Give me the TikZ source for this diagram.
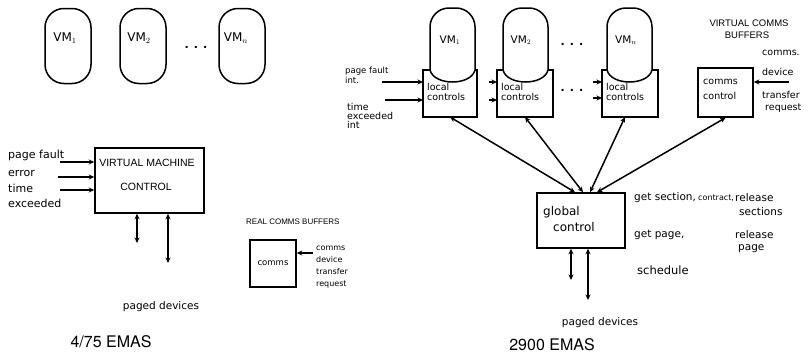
\documentclass[tikz,border=0pt]{standalone}
\usepackage{fontspec}
\usetikzlibrary{arrows.meta}
\newfontfamily\handfont{DejaVu Sans}
\newfontfamily\capsfont{Liberation Sans}
\newfontfamily\titlefont{TeX Gyre Heros}
\newcommand{\fs}[1]{\fontsize{#1}{#1}\selectfont}
\begin{document}
\begin{tikzpicture}[x=1pt,y=-1pt,
  ln/.style={line width=1.5pt},
  arr/.style={ln,-{Stealth[length=5.5pt,width=5pt]}},
  darr/.style={ln,{Stealth[length=5.5pt,width=5pt]}-{Stealth[length=5.5pt,width=5pt]}},
  hand/.style={font=\handfont\fs{10.5}, inner sep=0, align=left},
  caps/.style={font=\capsfont\fs{8}, inner sep=0},
  title/.style={font=\titlefont\fs{16}, inner sep=0},
  capsule/.style={draw, ln, rounded corners=19pt, minimum width=46pt, minimum height=75pt, inner sep=0},
  boxn/.style={draw, ln, inner sep=0},
  hold/.style={inner sep=0, outer sep=0},
  capline/.style={ln, rounded corners=19pt},
  dots/.style={font=\handfont\bfseries\fs{11}, inner sep=0}
]
\useasboundingbox (0,0) rectangle (810,356);

% ---------------- left: 4/75 EMAS ----------------
\node[capsule] (lv1) at (68,46) {};
\node[capsule] (lv2) at (143,46) {};
\node[capsule] (lv3) at (242,46) {};
\node[hand, font=\handfont\fs{12}] (lv1t) at (65,38) {VM$_1$};
\node[hand, font=\handfont\fs{12}] (lv2t) at (139,38) {VM$_2$};
\node[hand, font=\handfont\fs{12}] (lv3t) at (236,38) {VM$_n$};
\node[dots] (ldots) at (196,47) {. . .};

\node[boxn, minimum width=109pt, minimum height=65pt] (vmc) at (149.5,180.5) {};
\node[caps, font=\capsfont\fs{10.5}] (vmct1) at (147,163) {VIRTUAL MACHINE};
\node[caps, font=\capsfont\fs{10.5}] (vmct2) at (146,187) {CONTROL};

\node[hand, anchor=west, font=\handfont\fs{11}] (pf) at (8,155) {page fault};
\node[hand, anchor=west, font=\handfont\fs{11}] (er) at (8,173) {error};
\node[hand, anchor=west, font=\handfont\fs{11}] (tm) at (8,188) {time};
\node[hand, anchor=west, font=\handfont\fs{11}] (ex) at (8,203) {exceeded};
\coordinate (pfa) at (60,162);
\coordinate (era) at (58,177);
\coordinate (tma) at (60,190);
\draw[arr] (pfa) -- (pfa -| vmc.west);
\draw[arr] (era) -- (era -| vmc.west);
\draw[arr] (tma) -- (tma -| vmc.west);

\coordinate (ld1) at (137,243);
\coordinate (ld2) at (168,263);
\draw[darr] (vmc.south -| ld1) -- (ld1);
\draw[darr] (vmc.south -| ld2) -- (ld2);
\node[hand] (lpd) at (161,307) {paged devices};
\node[title] (t1) at (111,342) {4/75 EMAS};

\node[caps, anchor=west] (rcb) at (246,222) {REAL COMMS BUFFERS};
\node[boxn, minimum width=46pt, minimum height=47pt, font=\handfont\fs{8.5}] (cm) at (273,263.5) {comms};
\node[hand, anchor=north west, font=\handfont\fontsize{8}{12}\selectfont] (cmt) at (316,246) {comms\\device\\transfer\\request};
\coordinate (cma) at (313,253);
\draw[arr] (cma) -- (cma -| cm.east);

% ---------------- right: 2900 EMAS ----------------
\node[hold, minimum width=54pt, minimum height=47pt] (lc1) at (450,93.5) {};
\node[hold, minimum width=56pt, minimum height=47pt] (lc2) at (525,93.5) {};
\node[hold, minimum width=56pt, minimum height=47pt] (lc3) at (630,93.5) {};

\draw[capline] (430,70) -- (430,8) -- (475,8) -- (475,70);
\draw[ln] (475,70) .. controls (471,86) and (434,86) .. (430,70);
\draw[ln] (430,70) -- (lc1.north west) -- (lc1.south west) -- (lc1.south east) -- (lc1.north east) -- (475,70);
\draw[capline] (503,70) -- (503,8) -- (548,8) -- (548,70);
\draw[ln] (548,70) .. controls (544,86) and (507,86) .. (503,70);
\draw[ln] (503,70) -- (lc2.north west) -- (lc2.south west) -- (lc2.south east) -- (lc2.north east) -- (548,70);
\draw[capline] (607,70) -- (607,8) -- (652,8) -- (652,70);
\draw[ln] (652,70) .. controls (648,86) and (611,86) .. (607,70);
\draw[ln] (607,70) -- (lc3.north west) -- (lc3.south west) -- (lc3.south east) -- (lc3.north east) -- (652,70);

\node[hand] (rv1t) at (450,40) {VM$_1$};
\node[hand] (rv2t) at (521,40) {VM$_2$};
\node[hand] (rv3t) at (626,40) {VM$_n$};
\node[hand, anchor=north west, font=\handfont\fontsize{9.5}{10}\selectfont] (lc1t) at (427,83) {local\\controls};
\node[hand, anchor=north west, font=\handfont\fontsize{9.5}{10}\selectfont] (lc2t) at (501,83) {local\\controls};
\node[hand, anchor=north west, font=\handfont\fontsize{9.5}{10}\selectfont] (lc3t) at (606,83) {local\\controls};
\node[dots] (rdots1) at (572,44) {. . .};
\node[dots] (rdots2) at (572,90) {. . .};

\node[hand, anchor=west, font=\handfont\fs{8.5}] (rpf) at (345,71) {page fault};
\node[hand, anchor=west, font=\handfont\fs{8.5}] (rpf2) at (345,80) {int.};
\node[hand, anchor=north west, font=\handfont\fontsize{9.5}{9}\selectfont] (rte) at (347,103) {time\\exceeded\\int};
\coordinate (ra1) at (382,82);
\coordinate (ra2) at (385,100);
\draw[arr] (ra1) -- (ra1 -| lc1.west);
\draw[arr] (ra2) -- (ra2 -| lc1.west);
\coordinate (rb1) at (489,82);
\coordinate (rb2) at (489,100);
\draw[arr] (rb1) -- (rb1 -| lc2.west);
\draw[arr] (rb2) -- (rb2 -| lc2.west);
\coordinate (rc1) at (593,82);
\coordinate (rc2) at (593,98);
\draw[arr] (rc1) -- (rc1 -| lc3.west);
\draw[arr] (rc2) -- (rc2 -| lc3.west);

\node[boxn, minimum width=55pt, minimum height=49pt] (cc) at (725.5,92.5) {};
\node[hand, anchor=north west, font=\handfont\fontsize{9.5}{15}\selectfont] (cct) at (703,79) {comms\\control};
\node[caps, font=\capsfont\fs{9.5}] (vcb1) at (749,23) {VIRTUAL COMMS};
\node[caps, font=\capsfont\fs{9.5}] (vcb2) at (747,35) {BUFFERS};
\node[hand, anchor=west, font=\handfont\fs{9.5}] (cct2) at (762,53) {comms.};
\node[hand, anchor=west, font=\handfont\fs{9.5}] (cct3) at (762,72) {device};
\node[hand, anchor=west, font=\handfont\fs{9.5}] (cct4) at (762,95) {transfer};
\node[hand, anchor=west, font=\handfont\fs{9.5}] (cct5) at (765,108) {request};
\coordinate (cca) at (789,82);
\draw[arr] (cca) -- (cca -| cc.east);

\node[boxn, minimum width=88pt, minimum height=55pt] (gc) at (581,220.5) {};
\node[hand, anchor=west, font=\handfont\fs{12}] (gct1) at (543,212) {global};
\node[hand, anchor=west, font=\handfont\fs{12}] (gct2) at (553,227) {control};
\draw[darr] ([xshift=-6pt]gc.north) -- (lc1.south);
\draw[darr] ([xshift=2pt]gc.north) -- (lc2.south);
\draw[darr] ([xshift=9pt]gc.north) -- ([xshift=-5pt]lc3.south);
\draw[darr] ([xshift=16pt]gc.north) -- (cc.south);

\node[hand, anchor=west, font=\handfont\fs{10.5}] (gs1) at (634,198) {get section,};
\node[hand, anchor=west, font=\handfont\fs{8}] (gs1b) at (698,198) {contract,};
\node[hand, anchor=west, font=\handfont\fs{10.5}] (gs1c) at (735,198) {release};
\node[hand, anchor=west, font=\handfont\fs{10.5}] (gs2) at (739,212) {sections};
\node[hand, anchor=west, font=\handfont\fs{10.5}] (gp1) at (634,235) {get page,};
\node[hand, anchor=west, font=\handfont\fs{10.5}] (gp2) at (735,235) {release};
\node[hand, anchor=west, font=\handfont\fs{10.5}] (gp3) at (738,249) {page};
\node[hand, anchor=west, font=\handfont\fs{11.5}] (gsch) at (637,270) {schedule};

\coordinate (rd1) at (571,280);
\coordinate (rd2) at (588,300);
\draw[darr] (gc.south -| rd1) -- (rd1);
\draw[darr] (gc.south -| rd2) -- (rd2);
\node[hand] (rpd) at (600,323) {paged devices};
\node[title] (t2) at (552,345) {2900 EMAS};
\end{tikzpicture}
\end{document}
